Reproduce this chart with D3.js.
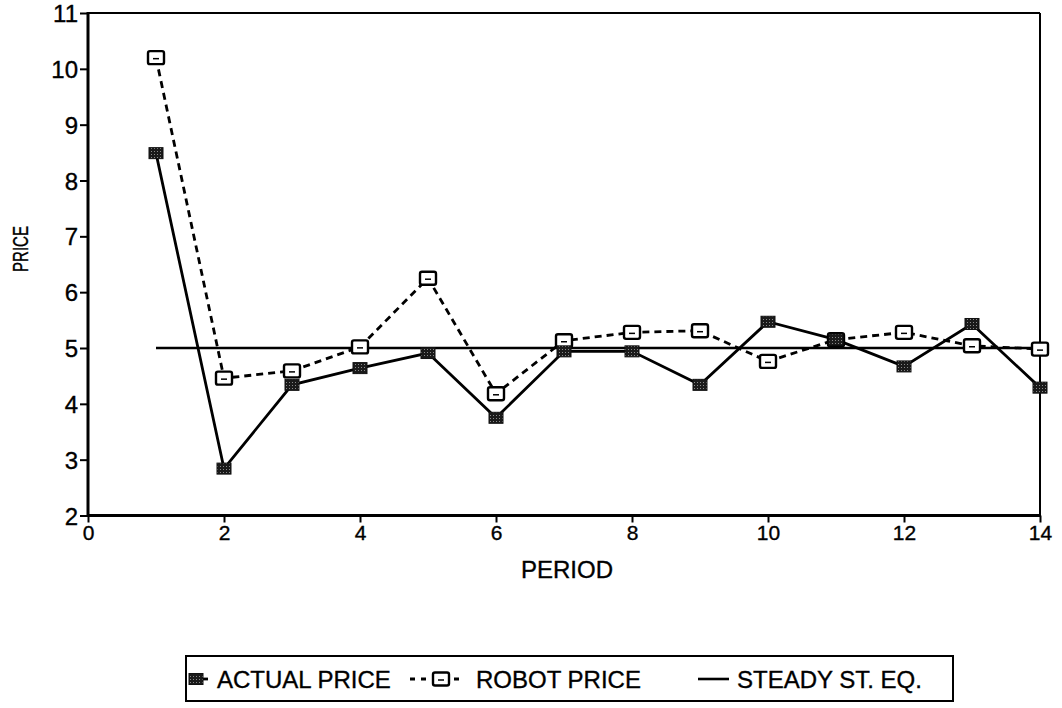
<!DOCTYPE html>
<html>
<head>
<meta charset="utf-8">
<script src="https://cdn.jsdelivr.net/npm/d3@7"></script>
<style>
  html, body { margin: 0; padding: 0; background: #fff; }
  svg { display: block; }
  text { font-family: "Liberation Sans", Arial, Helvetica, sans-serif; fill: #000; stroke: #000; stroke-width: 0.35px; }
</style>
</head>
<body>
<svg id="chart" width="1062" height="708"></svg>
<script>
const periods = [1, 2, 3, 4, 5, 6, 7, 8, 9, 10, 11, 12, 13, 14];
const actualPrice = [8.49, 2.84, 4.34, 4.64, 4.91, 3.75, 4.94, 4.94, 4.34, 5.47, 5.15, 4.67, 5.43, 4.29];
const robotPrice = [10.20, 4.46, 4.59, 5.02, 6.25, 4.18, 5.13, 5.28, 5.31, 4.76, 5.15, 5.28, 5.04, 4.98];
const steadyPeriods = [1, 14];
const steadyValue = [5, 5];
const xTicks = [0, 2, 4, 6, 8, 10, 12, 14];
const yTicks = [2, 3, 4, 5, 6, 7, 8, 9, 10, 11];
const legendLabels = ["ACTUAL PRICE", "ROBOT PRICE", "STEADY ST. EQ."];

const svg = d3.select("#chart");
const x = d3.scaleLinear().domain([0, 14]).range([88, 1040]);
const y = d3.scaleLinear().domain([2, 11]).range([515.5, 13]);

// pattern for actual markers
const defs = svg.append("defs");
const pat = defs.append("pattern").attr("id", "hatch").attr("patternUnits", "userSpaceOnUse")
  .attr("width", 3).attr("height", 3);
pat.append("rect").attr("width", 3).attr("height", 3).attr("fill", "#1a1a1a");
pat.append("rect").attr("x", 1).attr("y", 1).attr("width", 1).attr("height", 1).attr("fill", "#888");

// frame: top and right border
svg.append("line").attr("x1", x(0)).attr("x2", x(14)).attr("y1", y(11)).attr("y2", y(11))
  .attr("stroke", "#000").attr("stroke-width", 2.2);
svg.append("line").attr("x1", x(14)).attr("x2", x(14)).attr("y1", y(11)).attr("y2", y(2))
  .attr("stroke", "#000").attr("stroke-width", 2);

// axes
const yAxis = d3.axisLeft(y).tickValues(yTicks).tickSize(8).tickPadding(2).tickFormat(d3.format("d"));
const gy = svg.append("g").attr("transform", `translate(${x(0)},0)`).call(yAxis);
gy.select(".domain").attr("stroke-width", 3).attr("d", `M0,${y(2) + 1}V${y(11) - 1}`);
gy.selectAll(".tick line").attr("stroke-width", 2);
gy.selectAll(".tick text").attr("font-size", 24).attr("dy", "0.36em")
  .attr("font-family", "'Liberation Sans', Arial, sans-serif");

const xAxis = d3.axisBottom(x).tickValues(xTicks).tickSize(7).tickPadding(3).tickFormat(d3.format("d"));
const gx = svg.append("g").attr("transform", `translate(0,${y(2)})`).call(xAxis);
gx.select(".domain").attr("stroke-width", 3).attr("d", `M${x(0) - 1},0H${x(14) + 1}`);
gx.selectAll(".tick line").attr("stroke-width", 2);
gx.selectAll(".tick text").attr("font-size", 21)
  .attr("font-family", "'Liberation Sans', Arial, sans-serif");

// axis titles
svg.append("text").attr("x", 567).attr("y", 578).attr("text-anchor", "middle")
  .attr("font-size", 24).text("PERIOD");
svg.append("text").attr("transform", "translate(28,249) rotate(-90)").attr("text-anchor", "middle")
  .attr("font-size", 22).attr("textLength", 46).attr("lengthAdjust", "spacingAndGlyphs").text("PRICE");

// lines
const line = d3.line().x(d => x(d[0])).y(d => y(d[1]));
svg.append("path").datum(steadyPeriods.map((p, i) => [p, steadyValue[i]]))
  .attr("d", line).attr("fill", "none").attr("stroke", "#000").attr("stroke-width", 2.6);
svg.append("path").datum(periods.map((p, i) => [p, robotPrice[i]]))
  .attr("d", line).attr("fill", "none").attr("stroke", "#000").attr("stroke-width", 2.8)
  .attr("stroke-dasharray", "7,5");
svg.append("path").datum(periods.map((p, i) => [p, actualPrice[i]]))
  .attr("d", line).attr("fill", "none").attr("stroke", "#000").attr("stroke-width", 2.8);

// markers
function robotMarker(g, cx, cy) {
  g.append("rect").attr("x", cx - 8).attr("y", cy - 6.5).attr("width", 16).attr("height", 13)
    .attr("rx", 2).attr("fill", "#fff").attr("stroke", "#000").attr("stroke-width", 2.4);
  g.append("path").attr("d", `M${cx - 3},${cy + 1}h6`).attr("stroke", "#000").attr("stroke-width", 1.5);
}
function actualMarker(g, cx, cy) {
  g.append("rect").attr("x", cx - 7).attr("y", cy - 5.5).attr("width", 14).attr("height", 11)
    .attr("fill", "url(#hatch)").attr("stroke", "#111").attr("stroke-width", 1);
}
const mg = svg.append("g");
periods.forEach((p, i) => robotMarker(mg, x(p), y(robotPrice[i])));
periods.forEach((p, i) => actualMarker(mg, x(p), y(actualPrice[i])));

// legend
const lg = svg.append("g");
lg.append("rect").attr("x", 186).attr("y", 656).attr("width", 767).attr("height", 45)
  .attr("fill", "none").attr("stroke", "#000").attr("stroke-width", 2);
const ly = 679;
// actual
lg.append("line").attr("x1", 189).attr("x2", 208).attr("y1", ly).attr("y2", ly).attr("stroke", "#000").attr("stroke-width", 2.8);
actualMarker(lg, 196, ly);
lg.append("text").attr("x", 217).attr("y", ly + 9).attr("font-size", 24).text(legendLabels[0]);
// robot
lg.append("line").attr("x1", 410).attr("x2", 464).attr("y1", ly).attr("y2", ly).attr("stroke", "#000")
  .attr("stroke-width", 2.8).attr("stroke-dasharray", "5,6");
robotMarker(lg, 441, ly);
lg.append("text").attr("x", 476).attr("y", ly + 9).attr("font-size", 24).text(legendLabels[1]);
// steady
lg.append("line").attr("x1", 698).attr("x2", 729).attr("y1", ly).attr("y2", ly).attr("stroke", "#000").attr("stroke-width", 2.6);
lg.append("text").attr("x", 737).attr("y", ly + 9).attr("font-size", 24).text(legendLabels[2]);
</script>
</body>
</html>
